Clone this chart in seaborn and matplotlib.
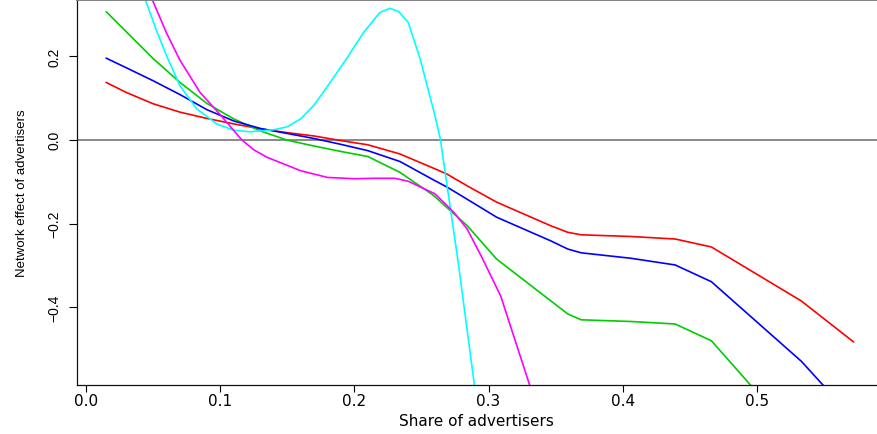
import numpy as np
import pandas as pd
import matplotlib
matplotlib.use("Agg")
import matplotlib.pyplot as plt
from matplotlib.ticker import FormatStrFormatter
import seaborn as sns

# shared grid for the three smoother curves
share_x = [0.015, 0.03, 0.05, 0.07, 0.09, 0.11, 0.13, 0.15, 0.17, 0.19, 0.21,
           0.234, 0.259, 0.269, 0.284, 0.306, 0.346, 0.359, 0.369, 0.406,
           0.439, 0.466, 0.533, 0.572]
red_y = [0.137, 0.113, 0.086, 0.066, 0.051, 0.038, 0.026, 0.017, 0.009, -0.002,
         -0.012, -0.034, -0.068, -0.082, -0.110, -0.149, -0.205, -0.221, -0.227,
         -0.231, -0.237, -0.256, -0.385, -0.483]
blue_y = [0.195, 0.172, 0.141, 0.108, 0.072, 0.045, 0.027, 0.015, 0.003, -0.011,
          -0.026, -0.052, -0.096, -0.113, -0.142, -0.185, -0.241, -0.261, -0.270,
          -0.283, -0.299, -0.339, -0.529, -0.666]
green_y = [0.306, 0.258, 0.194, 0.137, 0.087, 0.050, 0.021, -0.001, -0.015, -0.028,
           -0.040, -0.078, -0.133, -0.162, -0.205, -0.285, -0.384, -0.416, -0.430,
           -0.434, -0.440, -0.480, -0.723, np.nan]

magenta_x = [0.015, 0.03, 0.05, 0.06, 0.07, 0.085, 0.10, 0.116, 0.125, 0.135, 0.16,
             0.18, 0.20, 0.215, 0.23, 0.24, 0.26, 0.274, 0.284, 0.295, 0.309, 0.331]
magenta_y = [0.62, 0.48, 0.330, 0.255, 0.190, 0.113, 0.060, 0.0, -0.024, -0.042,
             -0.074, -0.090, -0.093, -0.092, -0.092, -0.099, -0.129, -0.173, -0.213,
             -0.281, -0.373, -0.59]

cyan_x = [0.015, 0.03, 0.044, 0.053, 0.06, 0.07, 0.0825, 0.0974, 0.11, 0.122, 0.14,
          0.15, 0.16, 0.17, 0.182, 0.194, 0.207, 0.219, 0.2265, 0.233, 0.24, 0.249,
          0.26, 0.264, 0.277, 0.29]
cyan_y = [0.68, 0.49, 0.336, 0.257, 0.201, 0.129, 0.074, 0.038, 0.023, 0.019, 0.024,
          0.031, 0.050, 0.083, 0.137, 0.193, 0.257, 0.304, 0.314, 0.306, 0.281, 0.193,
          0.058, 0.002, -0.285, -0.60]

x_ticks = [0.0, 0.1, 0.2, 0.3, 0.4, 0.5]
y_ticks = [-0.4, -0.2, 0.0, 0.2]

colors = {"red": "#FF0000", "green": "#00CD00", "blue": "#0000FF",
          "cyan": "#00FFFF", "magenta": "#FF00FF"}

series = [
    ("red", share_x, red_y),
    ("green", share_x, green_y),
    ("blue", share_x, blue_y),
    ("cyan", cyan_x, cyan_y),
    ("magenta", magenta_x, magenta_y),
]
frames = [pd.DataFrame({"share": xs, "effect": ys, "curve": name})
          for name, xs, ys in series]
df = pd.concat(frames, ignore_index=True).dropna()

sns.set_style("ticks")
plt.rcParams["font.family"] = ["Liberation Sans", "DejaVu Sans"]
plt.rcParams["text.color"] = "black"
plt.rcParams["axes.labelcolor"] = "black"
plt.rcParams["xtick.color"] = "black"
plt.rcParams["ytick.color"] = "black"

fig = plt.figure(figsize=(8.77, 4.35), dpi=100)
ax = fig.add_axes([0.0875, 0.1133, 0.9125, 0.8844])

ax.axhline(0, color="#808080", lw=1.3, zorder=1)
sns.lineplot(data=df, x="share", y="effect", hue="curve", palette=colors,
             hue_order=[s[0] for s in series], estimator=None, sort=False,
             lw=1.2, legend=False, ax=ax)

ax.set_xlim(-0.0069, 0.5894)
ax.set_ylim(-0.585, 0.3338)
ax.set_xticks(x_ticks)
ax.xaxis.set_major_formatter(FormatStrFormatter("%.1f"))
ax.set_yticks(y_ticks, [f"{v:.1f}".replace("-", "\u2212") for v in y_ticks],
              rotation=90, va="center")

for side in ["left", "bottom"]:
    ax.spines[side].set_color("#111111")
    ax.spines[side].set_linewidth(0.9)
ax.spines["top"].set_color("#808080")
ax.spines["top"].set_linewidth(1.4)
ax.spines["right"].set_visible(False)

ax.tick_params(axis="x", length=5, width=0.8, pad=1, labelsize=11,
               colors="black")
ax.tick_params(axis="y", length=6, width=0.8, pad=5, labelsize=10,
               colors="black")
for lbl in ax.get_xticklabels():
    lbl.set_fontfamily("DejaVu Sans")

ax.set_xlabel("Share of advertisers", fontsize=11, family="DejaVu Sans",
              labelpad=3.5, color="black")
ax.set_ylabel("Network effect of advertisers", fontsize=9.5, color="black")
ax.yaxis.set_label_coords(-0.061, 0.5)

fig.savefig("out.png", dpi=100)
